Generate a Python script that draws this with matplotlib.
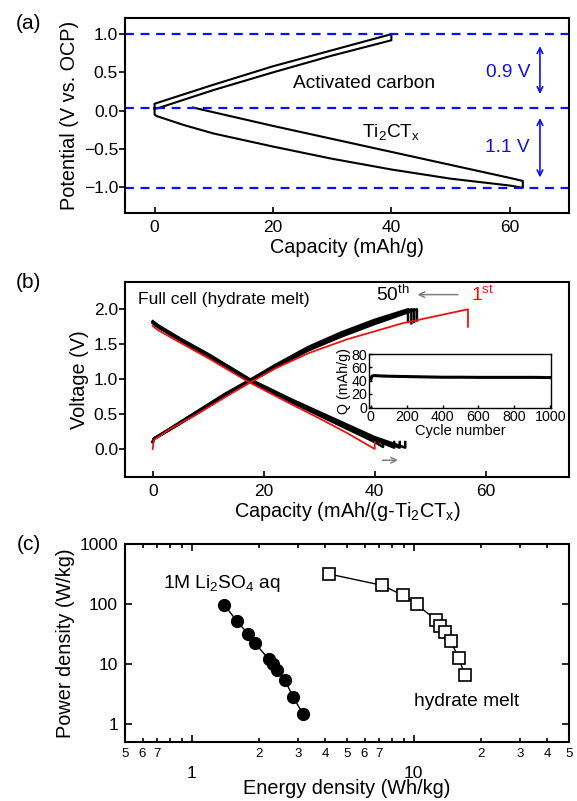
import numpy as np
import matplotlib
matplotlib.use("Agg")
import matplotlib.pyplot as plt
from matplotlib.ticker import FixedLocator, FixedFormatter, NullLocator

plt.rcParams['font.family'] = ['Liberation Sans', 'DejaVu Sans']
plt.rcParams['mathtext.fontset'] = 'custom'
plt.rcParams['mathtext.rm'] = 'Liberation Sans'
plt.rcParams['mathtext.it'] = 'Liberation Sans'
plt.rcParams['mathtext.default'] = 'regular'

# ---- (a) half-cell profiles
ac_x = [0, 0, 10, 20, 30, 40, 40, 30, 20, 10, 0.5, 0]
ac_y = [0.03, 0.09, 0.34, 0.58, 0.79, 1.0, 0.92, 0.72, 0.5, 0.27, 0.03, 0.03]
ti_x = [0, 0, 0.3, 5, 10, 20, 30, 40, 50, 60, 62.2, 62.2, 60, 50, 40, 30, 20, 6.5]
ti_y = [0.02, -0.05, -0.07, -0.19, -0.3, -0.47, -0.63, -0.77, -0.89, -0.98, -1.01,
        -0.92, -0.88, -0.71, -0.54, -0.37, -0.2, 0.04]
dash_levels = [1.0, 0.03, -1.01]

# ---- (b) full cell, 1st cycle (red) and later cycles (black)
red_chg_x = [0, 0.2, 3, 8, 13, 17.5, 22, 28, 35, 45, 56.8, 56.8]
red_chg_y = [0, 0.13, 0.28, 0.5, 0.74, 0.95, 1.15, 1.37, 1.57, 1.8, 2.0, 1.75]
red_dis_x = [0, 1, 5, 10, 17.5, 25, 30, 35, 40, 40]
red_dis_y = [1.76, 1.7, 1.52, 1.3, 0.95, 0.64, 0.44, 0.23, 0.0, 0.1]

blk_chg_x = [
    [0, 0.2, 3, 8, 13, 17.5, 22, 28, 34, 40, 46.0, 46.0],
    [0, 0.2, 3, 8, 13, 17.5, 22, 28, 34, 40, 46.6, 46.6],
    [0, 0.2, 3, 8, 13, 17.5, 22, 28, 34, 40, 47.1, 47.1],
    [0, 0.2, 3, 8, 13, 17.5, 22, 28, 34, 40, 47.6, 47.6],
]
blk_chg_y = [
    [0.1, 0.15, 0.29, 0.54, 0.79, 0.99, 1.2, 1.46, 1.67, 1.85, 2.0, 1.82],
    [0.1, 0.15, 0.28, 0.53, 0.78, 0.98, 1.18, 1.44, 1.65, 1.83, 2.0, 1.8],
    [0.11, 0.15, 0.28, 0.52, 0.77, 0.97, 1.17, 1.42, 1.63, 1.81, 2.0, 1.82],
    [0.1, 0.14, 0.27, 0.51, 0.76, 0.96, 1.16, 1.41, 1.61, 1.79, 2.0, 1.84],
]
blk_dis_x = [
    [0, 1, 5, 10, 17.5, 25, 30, 35, 40, 41.5, 41.5],
    [0, 1, 5, 10, 17.5, 25, 30, 35, 40, 43.5, 43.5],
    [0, 1, 5, 10, 17.5, 25, 30, 35, 40, 44.5, 44.5],
    [0, 1, 5, 10, 17.5, 25, 30, 35, 40, 45.5, 45.5],
]
blk_dis_y = [
    [1.8, 1.74, 1.55, 1.33, 0.97, 0.67, 0.48, 0.29, 0.1, 0.03, 0.1],
    [1.82, 1.75, 1.56, 1.34, 0.98, 0.68, 0.5, 0.31, 0.13, 0.02, 0.1],
    [1.82, 1.76, 1.57, 1.35, 0.99, 0.7, 0.51, 0.33, 0.15, 0.02, 0.1],
    [1.83, 1.77, 1.58, 1.36, 1.0, 0.71, 0.53, 0.35, 0.17, 0.02, 0.1],
]

# inset: capacity retention
cyc = [1, 5, 10, 20, 50, 100, 200, 300, 400, 500, 600, 700, 800, 900, 1000]
cap = [42, 46, 47, 47.5, 47, 46.5, 46, 45.5, 45, 45, 44.8, 44.8, 44.8, 44.8, 44.5]

# ---- (c) Ragone plot
li_e = [1.40, 1.60, 1.79, 1.93, 2.22, 2.32, 2.42, 2.63, 2.86, 3.17]
li_p = [97, 51, 32, 22, 12, 10, 7.8, 5.3, 2.8, 1.46]
hm_e = [4.16, 7.17, 8.95, 10.3, 12.6, 13.1, 13.8, 14.7, 15.9, 17.0]
hm_p = [315, 205, 140, 98, 54, 43, 34, 24, 12.6, 6.6]
minor_ticks = [0.5, 0.6, 0.7, 0.8, 0.9, 2, 3, 4, 5, 6, 7, 8, 9, 20, 30, 40, 50]
minor_labels = ['5', '6', '7', '', '', '2', '3', '4', '5', '6', '7', '', '',
                '2', '3', '4', '5']

FS = 12.5     # tick labels
LFS = 14.3    # axis labels
TFS = 13.8    # annotations
BLUE = '#1010ee'
RED = '#ee1111'

fig = plt.figure(figsize=(5.77, 8.01), dpi=100)
L, W = 0.2166, 0.7695

def style(ax):
    for s in ax.spines.values():
        s.set_linewidth(1.5)
    ax.tick_params(axis='x', direction='in', length=4, width=1.2, labelsize=FS, pad=5)
    ax.tick_params(axis='y', direction='out', length=4, width=1.2, labelsize=FS, pad=1)

# (a)
ax1 = fig.add_axes([L, 0.734, W, 0.2434])
style(ax1)
ax1.plot(ac_x, ac_y, color='black', lw=1.5)
ax1.plot(ti_x, ti_y, color='black', lw=1.5)
for lv in dash_levels:
    ax1.axhline(lv, color=BLUE, ls='--', lw=1.6, dashes=(4, 3))
ax1.annotate('', xy=(65.1, 0.18), xytext=(65.1, 0.88),
             arrowprops=dict(arrowstyle='<->', color=BLUE, lw=1.2))
ax1.annotate('', xy=(65.1, -0.91), xytext=(65.1, -0.06),
             arrowprops=dict(arrowstyle='<->', color=BLUE, lw=1.2))
ax1.text(59.8, 0.5, '0.9 V', color=BLUE, fontsize=TFS, ha='center', va='center')
ax1.text(59.6, -0.48, '1.1 V', color=BLUE, fontsize=TFS, ha='center', va='center')
ax1.text(35.4, 0.36, 'Activated carbon', fontsize=TFS, ha='center', va='center')
ax1.text(40, -0.28, 'Ti$_2$CT$_x$', fontsize=TFS, ha='center', va='center')
ax1.set_xlim(-5, 70)
ax1.set_ylim(-1.34, 1.21)
ax1.set_xticks([0, 20, 40, 60])
ax1.set_yticks([-1.0, -0.5, 0.0, 0.5, 1.0])
ax1.set_xlabel('Capacity (mAh/g)', fontsize=LFS, labelpad=2)
ax1.set_ylabel('Potential (V vs. OCP)', fontsize=LFS, labelpad=3)
fig.text(0.050, 0.971, '(a)', fontsize=15, ha='center', va='center')

# (b)
ax2 = fig.add_axes([L, 0.4045, W, 0.2434])
style(ax2)
for i in range(len(blk_chg_x)):
    ax2.plot(blk_chg_x[i], blk_chg_y[i], color='black', lw=1.8)
    ax2.plot(blk_dis_x[i], blk_dis_y[i], color='black', lw=1.8)
ax2.plot(red_chg_x, red_chg_y, color=RED, lw=1.3)
ax2.plot(red_dis_x, red_dis_y, color=RED, lw=1.3)
ax2.text(-2.7, 2.14, 'Full cell (hydrate melt)', fontsize=12.6, ha='left', va='center')
ax2.text(43.2, 2.21, '50$^{th}$', fontsize=TFS, ha='center', va='center')
ax2.text(59.5, 2.21, '1$^{st}$', fontsize=TFS, ha='center', va='center', color=RED)
ax2.annotate('', xy=(47.2, 2.21), xytext=(55.5, 2.21),
             arrowprops=dict(arrowstyle='->', color='gray', lw=1.1))
ax2.annotate('', xy=(44.7, -0.16), xytext=(40.9, -0.16),
             arrowprops=dict(arrowstyle='->', color='gray', lw=1.1))
ax2.set_xlim(-5, 75)
ax2.set_ylim(-0.4, 2.39)
ax2.set_xticks([0, 20, 40, 60])
ax2.set_yticks([0.0, 0.5, 1.0, 1.5, 2.0])
ax2.set_xlabel('Capacity (mAh/(g-Ti$_2$CT$_x$)', fontsize=LFS, labelpad=1)
ax2.set_ylabel('Voltage (V)', fontsize=LFS, labelpad=3)
fig.text(0.050, 0.647, '(b)', fontsize=15, ha='center', va='center')

ins = fig.add_axes([0.6395, 0.4906, 0.3154, 0.0674])
for s in ins.spines.values():
    s.set_linewidth(1.0)
ins.plot(cyc, cap, color='black', lw=2.2)
ins.set_xlim(-10, 1004)
ins.set_ylim(-1.5, 80)
ins.set_xticks([0, 200, 400, 600, 800, 1000])
ins.set_yticks([0, 20, 40, 60, 80])
ins.tick_params(direction='in', length=2.5, width=1, labelsize=10.3, pad=1.5)
ins.set_xlabel('Cycle number', fontsize=10.5, labelpad=0)
ins.set_ylabel('Q (mAh/g)', fontsize=10.3, labelpad=0)

# (c)
ax3 = fig.add_axes([L, 0.0737, W, 0.2472])
for s in ax3.spines.values():
    s.set_linewidth(1.5)
ax3.set_xscale('log')
ax3.set_yscale('log')
ax3.plot(li_e, li_p, color='black', lw=1, marker='o', ms=8.5)
ax3.plot(hm_e, hm_p, color='black', lw=1, marker='s', ms=8,
         mfc='white', mec='black', mew=1.2)
ax3.set_xlim(0.5, 50)
ax3.set_ylim(0.5, 1000)
ax3.xaxis.set_major_locator(FixedLocator([1, 10]))
ax3.xaxis.set_major_formatter(FixedFormatter(['1', '10']))
ax3.xaxis.set_minor_locator(FixedLocator(minor_ticks))
ax3.xaxis.set_minor_formatter(FixedFormatter(minor_labels))
ax3.yaxis.set_major_locator(FixedLocator([1, 10, 100, 1000]))
ax3.yaxis.set_major_formatter(FixedFormatter(['1', '10', '100', '1000']))
ax3.yaxis.set_minor_locator(NullLocator())
ax3.tick_params(which='both', direction='in', top=True, right=True, width=1.2)
ax3.tick_params(which='major', length=5, labelsize=FS, pad=17)
ax3.tick_params(axis='y', which='major', pad=5)
ax3.tick_params(which='minor', length=3, labelsize=9.5, pad=4)
ax3.text(0.74, 220, '1M Li$_2$SO$_4$ aq', fontsize=TFS, ha='left', va='center')
ax3.text(17.3, 2.34, 'hydrate melt', fontsize=TFS, ha='center', va='center')
ax3.set_xlabel('Energy density (Wh/kg)', fontsize=LFS, labelpad=-1)
ax3.set_ylabel('Power density (W/kg)', fontsize=LFS, labelpad=3)
fig.text(0.050, 0.320, '(c)', fontsize=15, ha='center', va='center')

fig.savefig('out.png', dpi=100)
